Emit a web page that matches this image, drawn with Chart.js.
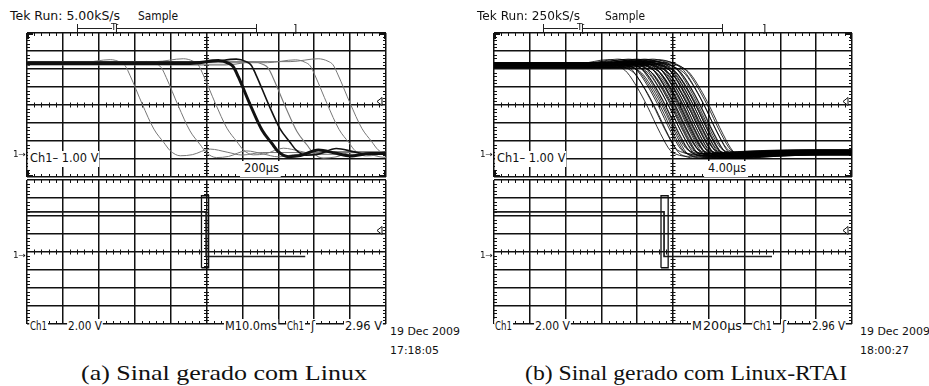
<!DOCTYPE html>
<html>
<head>
<meta charset="utf-8">
<title>Sinal gerado</title>
<script src="https://cdn.jsdelivr.net/npm/chart.js@4.4.1/dist/chart.umd.min.js"></script>
<style>
  body { margin: 0; background: #fff; }
  #page { position: relative; width: 929px; height: 386px; overflow: hidden; color: #111; }
  #page canvas { position: absolute; }
  .t { position: absolute; white-space: nowrap; transform-origin: 0 0; }
  .ln { position: absolute; background: #222; }
</style>
</head>
<body>
<div id="page"></div>
<script>
// Linux, zoomed window: 200us/div, 1 V/div
var linuxEdges = [642, 843, 1049, 1244, 1344, 1439, 1673, 1800];      // us at centre line
var linuxShift = [0.05, -0.05, 0.1, 0, 0.08, -0.08, 0.04, 0.1];        // V
var linuxWidth = [1, 1, 1, 3, 1.6, 1.1, 1, 1];
var linuxShapeT = [-334, -178, -123, -95, -67, 0, 65, 120, 156, 212, 279, 379, 473, 557, 668];
var linuxShapeV = [5.06, 5.22, 5.08, 4.88, 4.32, 2.75, 1.36, 0.62, 0.16, -0.12, -0.06, 0.25, 0.08, -0.08, 0.06];

// Linux-RTAI, zoomed window: 4us/div, 1 V/div
var rtaiEdges = [17.1, 17.7, 18.0, 18.3, 18.6, 18.8, 18.9, 19.1, 19.2, 19.4, 19.6, 19.7, 19.9, 20.0, 20.1,
                 20.2, 20.3, 20.5, 20.6, 20.7, 20.8, 20.9, 21.0, 21.1, 21.2, 21.3, 21.5, 21.6, 21.7, 21.8,
                 21.9, 22.0, 22.1, 22.2, 22.4, 22.5, 22.6, 22.7, 22.8, 23.0, 23.1, 23.4, 23.6, 23.8, 24.1];
var rtaiShift = [0, 0.12, -0.1, 0.06, -0.04, 0.15, -0.12, 0.03];
var rtaiShapeT = [-8, -5, -3.9, -2.98, -2.23, -1.12, 0, 1.49, 2.6, 3.35, 4.5, 8, 14];
var rtaiShapeV = [4.95, 5.15, 5.05, 4.85, 4.56, 3.74, 2.71, 1.17, 0.22, 0.0, -0.1, 0.0, 0.1];

// whole record, 2 V/div (Linux in ms, RTAI in us)
var linuxRecT = [0, 49.9, 49.9, 77.5];
var rtaiRecT = [0, 950, 950, 1553];
var recV = [4.95, 4.95, 0, 0];
var linuxWin = [48.6, 2];    // start and length of the zoomed window, ms
var rtaiWin = [933, 40];     // us

var trigLevel = 2.96;        // V
var zoomY = [-1.25, 6.75];
var recY = [-7.5, 8.5];

var page = document.getElementById('page');
var PAD = 3;
var INK = '#111';

// minor marks on the centre cross and frame, trigger level arrow, corner brackets
var scopeMarks = {
    id: 'scopeMarks',
    beforeDatasetsDraw: function (chart, args, opts) {
        var ctx = chart.ctx, a = chart.chartArea;
        var sx = chart.scales.x, sy = chart.scales.y;
        var xs = sx.ticks.map(function (t) { return sx.getPixelForValue(t.value); });
        var ys = sy.ticks.map(function (t) { return sy.getPixelForValue(t.value); });
        var cx = xs[5], cy = ys[4];
        ctx.save();
        ctx.strokeStyle = INK;
        ctx.lineWidth = 1;
        ctx.beginPath();
        var i, k, p;
        for (i = 0; i < xs.length - 1; i++) for (k = 1; k < 5; k++) {
            p = Math.round(xs[i] + (xs[i + 1] - xs[i]) * k / 5) + 0.5;
            ctx.moveTo(p, cy - 2.5); ctx.lineTo(p, cy + 2.5);
            ctx.moveTo(p, a.top); ctx.lineTo(p, a.top + 3);
            ctx.moveTo(p, a.bottom); ctx.lineTo(p, a.bottom - 3);
        }
        for (i = 0; i < ys.length - 1; i++) for (k = 1; k < 5; k++) {
            p = Math.round(ys[i] + (ys[i + 1] - ys[i]) * k / 5) + 0.5;
            ctx.moveTo(cx - 2.5, p); ctx.lineTo(cx + 2.5, p);
            ctx.moveTo(a.left, p); ctx.lineTo(a.left + 3, p);
            ctx.moveTo(a.right, p); ctx.lineTo(a.right - 3, p);
        }
        ctx.stroke();
        if (opts.trig !== undefined) {
            var ty = Math.round(sy.getPixelForValue(opts.trig)) + 0.5;
            ctx.fillStyle = '#fff';
            ctx.beginPath();
            ctx.moveTo(a.right - 9, ty);
            ctx.lineTo(a.right - 4, ty - 4);
            ctx.lineTo(a.right - 4, ty + 4);
            ctx.closePath();
            ctx.fill();
            ctx.stroke();
        }
        if (opts.corners) {
            ctx.lineWidth = 2;
            ctx.beginPath();
            ctx.moveTo(a.left + 1, a.top + 6); ctx.lineTo(a.left + 1, a.top + 1); ctx.lineTo(a.left + 6, a.top + 1);
            ctx.moveTo(a.right - 6, a.top + 1); ctx.lineTo(a.right - 1, a.top + 1); ctx.lineTo(a.right - 1, a.top + 6);
            ctx.moveTo(a.left + 1, a.bottom - 6); ctx.lineTo(a.left + 1, a.bottom - 1); ctx.lineTo(a.left + 6, a.bottom - 1);
            ctx.moveTo(a.right - 6, a.bottom - 1); ctx.lineTo(a.right - 1, a.bottom - 1); ctx.lineTo(a.right - 1, a.bottom - 6);
            ctx.stroke();
        }
        ctx.restore();
    }
};

function axis(min, max, n) {
    return {
        type: 'linear', min: min, max: max,
        afterBuildTicks: function (s) {
            var t = [];
            for (var i = 0; i <= n; i++) t.push({value: min + (max - min) * i / n});
            s.ticks = t;
        },
        ticks: {display: false},
        border: {display: false},
        grid: {drawTicks: false, color: INK, lineWidth: 1.5}
    };
}

function scope(left, top, w, h, xr, yr, datasets, corners) {
    var c = document.createElement('canvas');
    c.width = w + 2 * PAD;
    c.height = h + 2 * PAD;
    c.style.left = (left - PAD) + 'px';
    c.style.top = (top - PAD) + 'px';
    page.appendChild(c);
    return new Chart(c, {
        type: 'line',
        data: {datasets: datasets},
        options: {
            responsive: false,
            animation: false,
            events: [],
            layout: {padding: PAD},
            elements: {point: {radius: 0}, line: {fill: false}},
            plugins: {
                legend: {display: false},
                tooltip: {enabled: false},
                scopeMarks: {corners: corners, trig: trigLevel}
            },
            scales: {x: axis(xr[0], xr[1], 10), y: axis(yr[0], yr[1], 8)}
        },
        plugins: [scopeMarks]
    });
}

function edgeSet(at, shift, shapeT, shapeV, end) {
    var pts = [{x: 0, y: shapeV[0] + shift}];
    for (var i = 0; i < shapeT.length; i++) pts.push({x: at + shapeT[i], y: shapeV[i] + shift});
    pts.push({x: end * 2, y: shapeV[shapeV.length - 1] + shift});
    return pts;
}

function zip(xs, ys) {
    return xs.map(function (x, i) { return {x: x, y: ys[i]}; });
}

function winBox(win) {
    var s = win[0], e = win[0] + win[1];
    return [{x: s, y: zoomY[0]}, {x: s, y: zoomY[1]}, {x: e, y: zoomY[1]}, {x: e, y: zoomY[0]}, {x: s, y: zoomY[0]}];
}

// Linux
var linuxSets = linuxEdges.map(function (t, i) {
    var thick = linuxWidth[i] > 1.5;
    return {
        data: edgeSet(t, linuxShift[i], linuxShapeT, linuxShapeV, 2000),
        borderColor: thick ? '#111' : '#777',
        borderWidth: linuxWidth[i],
        cubicInterpolationMode: 'monotone',
        order: thick ? 0 : 1
    };
});
scope(27, 33, 359, 144, [0, 2000], zoomY, linuxSets, true);
scope(27, 180, 359, 144, [0, 100], recY, [
    {data: zip(linuxRecT, recV), borderColor: '#1c1c1c', borderWidth: 1.7, tension: 0},
    {data: winBox(linuxWin), borderColor: '#111', borderWidth: 1.3, tension: 0}
], false);

// Linux-RTAI
var rtaiSets = rtaiEdges.map(function (t, i) {
    return {
        data: edgeSet(t, rtaiShift[i % rtaiShift.length], rtaiShapeT, rtaiShapeV, 40),
        borderColor: 'rgba(0,0,0,0.8)',
        borderWidth: 1,
        cubicInterpolationMode: 'monotone'
    };
});
scope(494, 33, 358, 144, [0, 40], zoomY, rtaiSets, true);
scope(494, 180, 358, 144, [0, 2000], recY, [
    {data: zip(rtaiRecT, recV), borderColor: '#1c1c1c', borderWidth: 1.7, tension: 0},
    {data: winBox(rtaiWin), borderColor: '#111', borderWidth: 1.3, tension: 0}
], false);

// readouts
var meas = document.createElement('canvas').getContext('2d');
function text(str, x, base, o) {
    o = o || {};
    var size = o.size || 11.5;
    var fam = o.font || '"DejaVu Sans"';
    var asc = o.asc || 0.846;
    var el = document.createElement('span');
    el.className = 't';
    el.textContent = str;
    el.style.font = size + 'px ' + fam;
    el.style.lineHeight = size + 'px';
    var left = x;
    if (o.bg) {
        el.style.background = '#fff';
        el.style.padding = '2px ' + (o.padR || 1) + 'px 3px ' + (o.padL || 1) + 'px';
        left -= (o.padL || 1);
    }
    el.style.left = left + 'px';
    el.style.top = (base - size * asc - (o.bg ? 2 : 0)) + 'px';
    if (o.w) {
        meas.font = size + 'px ' + fam;
        el.style.transform = 'scaleX(' + (o.w / meas.measureText(str).width).toFixed(3) + ')';
        if (o.bg) el.style.transformOrigin = (o.padL || 1) + 'px 0';
    }
    page.appendChild(el);
}
function hline(x1, x2, y) {
    var d = document.createElement('div');
    d.className = 'ln';
    d.style.cssText = 'left:' + x1 + 'px;top:' + y + 'px;width:' + (x2 - x1) + 'px;height:1px';
    page.appendChild(d);
}
function vline(x, y1, y2) {
    var d = document.createElement('div');
    d.className = 'ln';
    d.style.cssText = 'left:' + x + 'px;top:' + y1 + 'px;width:1px;height:' + (y2 - y1) + 'px';
    page.appendChild(d);
}

function panelText(dx, p) {
    text(p.run, dx + 10, 20.5, {size: 12, w: p.runW});
    text('Sample', dx + p.sample, 20.5, {size: 12, w: 40});
    // record bar with trigger point and window brackets
    vline(dx + p.bar[0], 24, 32);
    hline(dx + p.bar[0], dx + p.bar[1], 28);
    text('T', dx + p.bar[1] - 1, 31, {size: 9});
    text('[', dx + p.bar[1] + 3, 32, {size: 11});
    hline(dx + p.bar[1] + 5, dx + p.bar[2], 28);
    vline(dx + p.bar[2], 24, 32);
    text(']', dx + p.bar[3], 32, {size: 11});
    // channel markers
    text('1→', dx + 13, 157.5, {size: 8, w: 13});
    text('1→', dx + 13, 259, {size: 8, w: 13});
    text('Ch1–  1.00 V', dx + p.ch, 162.5, {w: 72, bg: true, padL: 2, padR: 0});
    text(p.div, dx + p.divX, 172.5, {w: p.divW, bg: true, padL: 4, padR: 2});
    // bottom readout
    p.bottom.forEach(function (b) { text(b[0], dx + b[1], 331, {w: b[2], bg: true}); });
    text('19 Dec 2009', dx + p.date, 335, {size: 11, w: 70});
    text(p.time, dx + p.date, 354.3, {size: 11, w: 49});
    text(p.caption, dx + p.capX, 380, {font: '"Liberation Serif"', size: 22, asc: 0.8375, w: p.capW});
}

panelText(0, {
    run: 'Tek Run: 5.00kS/s', runW: 110, sample: 138,
    bar: [77, 112, 256, 293],
    ch: 30, div: '200µs', divX: 244, divW: 35,
    bottom: [['Ch1', 30, 17], ['2.00 V', 68, 34], ['M10.0ms', 225, 52], ['Ch1', 287, 17], ['ʃ', 311], ['2.96 V', 345, 37]],
    date: 390, time: '17:18:05',
    caption: '(a) Sinal gerado com Linux', capX: 81, capW: 286
});
panelText(467, {
    run: 'Tek Run: 250kS/s', runW: 103, sample: 138,
    bar: [76, 111, 255, 295],
    ch: 30, div: '4.00µs', divX: 241, divW: 38,
    bottom: [['Ch1', 28, 17], ['2.00 V', 68, 35], ['M', 225], ['200µs', 236, 39], ['Ch1', 286, 19], ['ʃ', 315], ['2.96 V', 345, 33]],
    date: 393, time: '18:00:27',
    caption: '(b) Sinal gerado com Linux-RTAI', capX: 58, capW: 322
});
</script>
</body>
</html>
